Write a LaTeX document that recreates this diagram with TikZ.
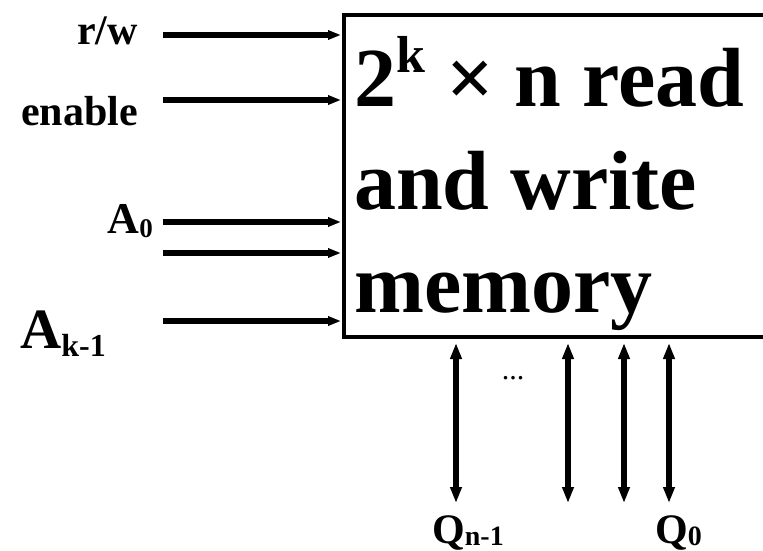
\documentclass[tikz,border=0pt]{standalone}
\usepackage{fontspec}
\setmainfont{Liberation Serif}
\usetikzlibrary{arrows.meta, positioning}

\newcommand{\lowidx}[3]{\raisebox{-#1pt}{\fontsize{#2}{#2}\selectfont #3}}

\begin{document}
\begin{tikzpicture}[x=1pt,y=-1pt,
    sig/.style={line width=5.5pt,-{Triangle[length=13pt,width=9pt]},shorten >=1pt},
    bus/.style={line width=5.5pt,{Triangle[length=16pt,width=11pt]}-{Triangle[length=16pt,width=11pt]}},
    lbl/.style={inner sep=0pt,font=\bfseries}]
    \useasboundingbox (0,0) rectangle (763,551);
    \node[draw,line width=4pt,minimum width=470pt,minimum height=322pt,anchor=north west,inner sep=0pt] (mem) at (342,13) {};
    \node[lbl,anchor=base west,align=left,font=\bfseries\fontsize{84}{103}\selectfont] (memtext) at (354,312)
        {2\raisebox{34pt}{\fontsize{52}{52}\selectfont k} × n read\\and write\\memory};
    % inputs
    \node[lbl,anchor=base east,font=\bfseries\fontsize{42}{48}\selectfont] (rw) at (138,45) {r/w};
    \node[lbl,anchor=base east,font=\bfseries\fontsize{42}{48}\selectfont] (en) at (138,125) {enable};
    \node[lbl,anchor=base east,font=\bfseries\fontsize{44}{50}\selectfont] (a0) at (153,233) {A\lowidx{4}{27}{0}};
    \node[lbl,anchor=base west,font=\bfseries\fontsize{57}{64}\selectfont] (ak) at (20,348) {A\lowidx{8}{32}{k-1}};
    \coordinate (inrw) at (163,35);
    \coordinate (inen) at (163,100);
    \coordinate (ina0) at (163,222);
    \coordinate (ina1) at (163,253);
    \coordinate (inak) at (163,321);
    \draw[sig] (inrw) -- (inrw -| mem.west);
    \draw[sig] (inen) -- (inen -| mem.west);
    \draw[sig] (ina0) -- (ina0 -| mem.west);
    \draw[sig] (ina1) -- (ina1 -| mem.west);
    \draw[sig] (inak) -- (inak -| mem.west);
    % data lines
    \coordinate (qnt) at (456,343);
    \coordinate (qnb) at (456,503);
    \coordinate (q2t) at (568,343);
    \coordinate (q2b) at (568,503);
    \coordinate (q1t) at (624,343);
    \coordinate (q1b) at (624,503);
    \coordinate (q0t) at (669,343);
    \coordinate (q0b) at (669,503);
    \draw[bus] (qnt) -- (qnb);
    \draw[bus] (q2t) -- (q2b);
    \draw[bus] (q1t) -- (q1b);
    \draw[bus] (q0t) -- (q0b);
    \node[lbl,font=\fontsize{30}{32}\selectfont] (dots) at (513,378) {...};
    \node[lbl,anchor=base west,font=\bfseries\fontsize{42}{48}\selectfont] (qn) at (432,543) {Q\lowidx{2}{28}{n-1}};
    \node[lbl,anchor=base west,font=\bfseries\fontsize{42}{48}\selectfont] (q0) at (655,543) {Q\lowidx{2}{28}{0}};
\end{tikzpicture}
\end{document}
